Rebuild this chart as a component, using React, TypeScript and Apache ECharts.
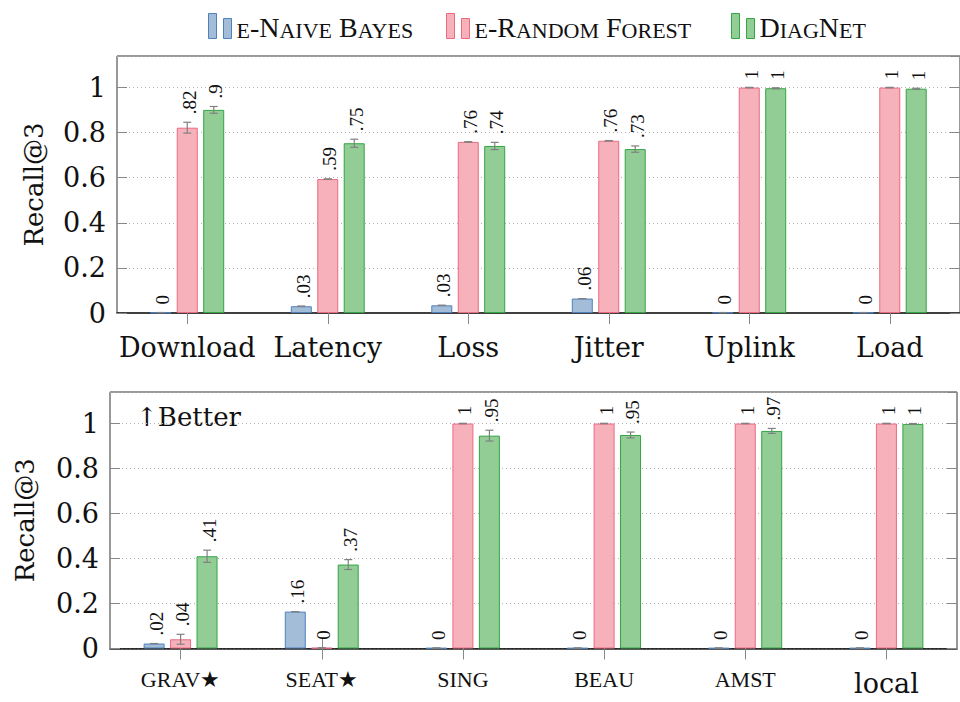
import React, { useEffect, useRef } from "react";
import * as echarts from "echarts";

const FONT = "Liberation Serif, serif";
const BIG_FONT = "DejaVu Serif";

const seriesNames = ["e-Naive Bayes", "e-Random Forest", "DiagNet"];

const topCategories = ["Download", "Latency", "Loss", "Jitter", "Uplink", "Load"];
const topNB = [0.002, 0.03, 0.034, 0.064, 0.002, 0.002];
const topNBErr = [0, 0, 0, 0, 0, 0];
const topRF = [0.822, 0.594, 0.759, 0.764, 1.0, 1.0];
const topRFErr = [0.024, 0.001, 0.001, 0.001, 0.001, 0.001];
const topDN = [0.901, 0.753, 0.741, 0.727, 0.997, 0.995];
const topDNErr = [0.015, 0.018, 0.016, 0.014, 0.002, 0.002];

const bottomCategories = ["GRAV★", "SEAT★", "SING", "BEAU", "AMST", "local"];
const botNB = [0.022, 0.164, 0.002, 0.002, 0.002, 0.002];
const botNBErr = [0, 0, 0, 0, 0, 0];
const botRF = [0.041, 0.003, 1.0, 1.0, 1.0, 1.0];
const botRFErr = [0.022, 0, 0.001, 0.001, 0.001, 0.001];
const botDN = [0.41, 0.373, 0.946, 0.949, 0.967, 0.998];
const botDNErr = [0.027, 0.022, 0.024, 0.013, 0.011, 0.002];

const fills = ["#a3bdd9", "#f6b1bb", "#92cd96"];
const strokes = ["#4f81bd", "#ea6b80", "#33a544"];

const BAR_W = 21;
const BAR_STEP = 26.5;

function fmt(v: number): string {
  const r = Math.round(v * 100) / 100;
  if (r === 0) return "0";
  if (r === 1) return "1";
  return r.toFixed(2).replace(/0+$/, "").replace(/^0/, "");
}

function smallCaps(name: string): string {
  let out = "";
  let cur = "";
  let style = "";
  for (const ch of name) {
    const isLower = ch >= "a" && ch <= "z";
    const st = isLower ? "s" : "b";
    const c = isLower ? ch.toUpperCase() : ch;
    if (st !== style && cur) {
      out += `{${style}|${cur}}`;
      cur = "";
    }
    style = st;
    cur += c;
  }
  if (cur) out += `{${style}|${cur}}`;
  return out;
}

function App() {
  const ref = useRef<HTMLDivElement>(null);
  useEffect(() => {
    if (!ref.current) return;
    const chart = echarts.init(ref.current, null, { renderer: "svg" });

    const groups = [
      { vals: [topNB, topRF, topDN], errs: [topNBErr, topRFErr, topDNErr] },
      { vals: [botNB, botRF, botDN], errs: [botNBErr, botRFErr, botDNErr] },
    ];

    const series: any[] = [];
    groups.forEach((g, gi) => {
      g.vals.forEach((vals, k) => {
        series.push({
          type: "bar",
          name: seriesNames[k],
          xAxisIndex: gi * 2,
          yAxisIndex: gi * 2,
          data: vals,
          barWidth: BAR_W,
          barGap: "26%",
          itemStyle: { color: fills[k], borderColor: strokes[k], borderWidth: 1 },
          z: 2,
        });
      });
      const errData: number[][] = [];
      g.vals.forEach((vals, k) => {
        vals.forEach((v, i) => errData.push([i, v, g.errs[k][i], k]));
      });
      series.push({
        type: "custom",
        xAxisIndex: gi * 2,
        yAxisIndex: gi * 2,
        data: errData,
        z: 5,
        silent: true,
        clip: false,
        renderItem: (params: any, api: any) => {
          const cat = api.value(0);
          const v = api.value(1);
          const e = api.value(2);
          const k = api.value(3);
          const c = api.coord([cat, v]);
          const x = c[0] + (k - 1) * BAR_STEP;
          const yTop = api.coord([cat, v + e])[1];
          const yBot = api.coord([cat, Math.max(v - e, 0)])[1];
          const ls = { stroke: "#808080", lineWidth: 1.2 };
          return {
            type: "group",
            children: [
              { type: "line", shape: { x1: x, y1: yTop, x2: x, y2: yBot }, style: ls },
              { type: "line", shape: { x1: x - 4, y1: yTop, x2: x + 4, y2: yTop }, style: ls },
              { type: "line", shape: { x1: x - 4, y1: yBot, x2: x + 4, y2: yBot }, style: ls },
              {
                type: "text",
                x: x + 2,
                y: yTop - 8,
                rotation: Math.PI / 2,
                style: {
                  text: fmt(v),
                  fontSize: 19,
                  fontFamily: FONT,
                  fill: "#111",
                  align: "left",
                  verticalAlign: "middle",
                },
              },
            ],
          };
        },
      });
    });

    const tickStyle = { color: "#888", width: 1 };
    const yAxisBase = (gi: number, nameGap: number) => [
      {
        gridIndex: gi,
        type: "value",
        min: 0,
        max: 1.14,
        interval: 0.2,
        axisLine: { show: false },
        axisTick: { show: true, inside: true, length: 10, lineStyle: tickStyle },
        axisLabel: {
          fontSize: 27,
          fontFamily: BIG_FONT,
          color: "#111",
          margin: 11,
          showMaxLabel: false,
        },
        splitLine: { show: true, lineStyle: { type: [1, 3], color: "#b0b0b0", width: 1 } },
        name: "Recall@3",
        nameLocation: "middle",
        nameGap,
        nameTextStyle: { fontSize: 26, fontFamily: BIG_FONT, color: "#111" },
      },
      {
        gridIndex: gi,
        type: "value",
        position: "right",
        min: 0,
        max: 1.14,
        interval: 0.2,
        axisLine: { show: false },
        axisTick: { show: true, inside: true, length: 10, lineStyle: tickStyle },
        axisLabel: { show: false },
        splitLine: { show: false },
      },
    ];

    const option: any = {
      animation: false,
      backgroundColor: "#ffffff",
      textStyle: { fontFamily: FONT },
      legend: seriesNames.map((n, i) => ({
        data: [n],
        left: [203, 441, 726][i],
        top: 8,
        itemWidth: 23,
        itemHeight: 25,
        itemGap: 0,
        icon: "path://M0,0H8V25H0Z M15,5H23V25H15Z",
        itemStyle: { borderWidth: 1 },
        selectedMode: false,
        formatter: (name: string) => smallCaps(name),
        textStyle: {
          color: "#111",
          fontFamily: FONT,
          rich: {
            b: { fontSize: 28, lineHeight: 30, fontFamily: FONT, color: "#111", verticalAlign: "bottom" },
            s: { fontSize: 22, lineHeight: 24, fontFamily: FONT, color: "#111", verticalAlign: "bottom" },
          },
        },
      })),
      grid: [
        { left: 117, top: 56, width: 849, height: 257, show: true, borderColor: "#333", borderWidth: 1, backgroundColor: "transparent" },
        { left: 110, top: 392, width: 847, height: 256.5, show: true, borderColor: "#333", borderWidth: 1, backgroundColor: "transparent" },
      ],
      xAxis: [
        {
          gridIndex: 0,
          type: "category",
          data: topCategories,
          position: "bottom",
          axisLine: { show: true, lineStyle: { color: "#222", width: 1.6 } },
          axisTick: { show: true, alignWithLabel: true, length: 11, lineStyle: tickStyle },
          axisLabel: { interval: 0, margin: 21, fontSize: 27, fontFamily: BIG_FONT, color: "#111" },
        },
        {
          gridIndex: 0,
          type: "category",
          data: topCategories,
          position: "top",
          axisLine: { show: false },
          axisTick: { show: true, alignWithLabel: true, length: 11, lineStyle: tickStyle },
          axisLabel: { show: false },
        },
        {
          gridIndex: 1,
          type: "category",
          data: bottomCategories,
          position: "bottom",
          axisLine: { show: true, lineStyle: { color: "#222", width: 1.6 } },
          axisTick: { show: true, alignWithLabel: true, length: 11, lineStyle: tickStyle },
          axisLabel: {
            interval: 0,
            margin: 20,
            fontFamily: FONT,
            formatter: (v: string) => (v === "local" ? `{big|${v}}` : `{sc|${v}}`),
            rich: {
              big: { fontSize: 27, lineHeight: 30, fontFamily: BIG_FONT, color: "#111" },
              sc: { fontSize: 22, lineHeight: 22, fontFamily: FONT, color: "#111" },
            },
          },
        },
        {
          gridIndex: 1,
          type: "category",
          data: bottomCategories,
          position: "top",
          axisLine: { show: false },
          axisTick: { show: true, alignWithLabel: true, length: 11, lineStyle: tickStyle },
          axisLabel: { show: false },
        },
      ],
      yAxis: [...yAxisBase(0, 70), ...yAxisBase(1, 72)],
      graphic: [
        {
          type: "text",
          left: 136,
          top: 404,
          style: { text: "↑Better", fontSize: 26, fontFamily: BIG_FONT, fill: "#111" },
        },
      ],
      series,
    };

    chart.setOption(option);
    return () => chart.dispose();
  }, []);

  return (
    <div
      ref={ref}
      style={{ position: "fixed", left: 0, top: 0, width: 960, height: 702, background: "#fff" }}
    />
  );
}

export default App;
